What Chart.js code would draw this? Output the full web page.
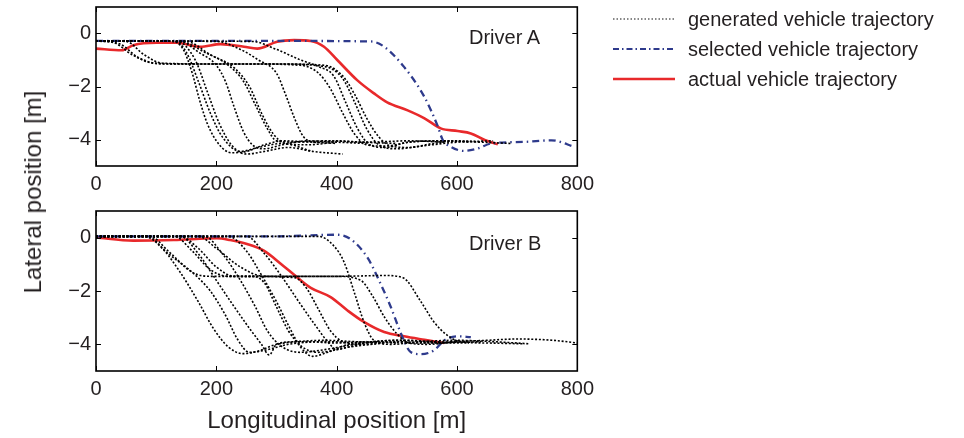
<!DOCTYPE html>
<html>
<head>
<meta charset="utf-8">
<script src="https://cdn.jsdelivr.net/npm/chart.js@4.4.1/dist/chart.umd.min.js"></script>
<style>
  body { margin: 0; background: #fff; width: 964px; height: 438px; position: relative; overflow: hidden;
         font-family: 'Liberation Sans', Arial, sans-serif; color: #231f20; }
  #wrapA { position: absolute; left: 0; top: 0; width: 600px; height: 200px; }
  #wrapB { position: absolute; left: 0; top: 200px; width: 600px; height: 238px; }
  .drv { position: absolute; font-size: 20px; line-height: 20px; }
  #ytitle { position: absolute; left: 33px; top: 192px; transform: translate(-50%, -50%) rotate(-90deg);
            font-size: 24px; white-space: nowrap; }
  #legend { position: absolute; left: 613px; top: 4px; font-size: 20px; }
  .row { display: flex; align-items: center; height: 30px; }
  .row svg { margin-right: 13px; }
</style>
</head>
<body>
<div id="wrapA"><canvas id="chartA"></canvas></div>
<div id="wrapB"><canvas id="chartB"></canvas></div>
<div class="drv" style="left:469px;top:27px">Driver A</div>
<div class="drv" style="left:469px;top:233px">Driver B</div>
<div id="ytitle">Lateral position [m]</div>
<div id="legend">
  <div class="row"><svg width="62" height="6"><line x1="0" y1="3" x2="62" y2="3" stroke="#111" stroke-width="1.2" stroke-dasharray="1.5 2"/></svg>generated vehicle trajectory</div>
  <div class="row"><svg width="62" height="6"><line x1="0" y1="3" x2="62" y2="3" stroke="#2e3a8c" stroke-width="2" stroke-dasharray="6 3 1.5 3"/></svg>selected vehicle trajectory</div>
  <div class="row"><svg width="62" height="6"><line x1="0" y1="3" x2="62" y2="3" stroke="#e8292b" stroke-width="2.5"/></svg>actual vehicle trajectory</div>
</div>
<script>
const xTicks = [0, 200, 400, 600, 800];
const yTicks = [-4, -2, 0];

// Driver A
const actAx = [0, 43, 62, 101, 134, 173, 207, 246, 268, 301, 329, 357, 379, 401, 434, 462, 484, 518, 546, 573, 601, 623, 646, 668];
const actAy = [-0.57, -0.63, -0.44, -0.35, -0.35, -0.5, -0.4, -0.5, -0.57, -0.31, -0.25, -0.28, -0.5, -1.0, -1.76, -2.26, -2.6, -2.9, -3.2, -3.58, -3.68, -3.77, -4.02, -4.18];
const selAx = [0, 300, 457, 479, 512, 546, 568, 576, 590, 612, 634, 657, 712, 757, 796];
const selAy = [-0.28, -0.28, -0.3, -0.5, -1.26, -2.4, -3.5, -4.0, -4.28, -4.43, -4.34, -4.15, -4.09, -4.03, -4.28];

const genA1x = [0, 30, 60, 90, 120, 200, 300, 380, 410, 430, 450, 470, 490, 520, 560, 600, 640];
const genA1y = [-0.28, -0.35, -0.8, -1.1, -1.15, -1.15, -1.15, -1.2, -1.6, -2.3, -3.2, -3.9, -4.25, -4.3, -4.15, -4.05, -4.1];
const genA2x = [0, 40, 70, 100, 150, 250, 340, 370, 390, 410, 430, 450, 480, 520, 580, 620];
const genA2y = [-0.28, -0.4, -0.9, -1.12, -1.15, -1.15, -1.2, -1.5, -2.1, -3.0, -3.8, -4.2, -4.25, -4.1, -4.05, -4.1];
const genA3x = [0, 125, 145, 160, 172, 185, 205, 225, 250, 280, 310, 360, 400];
const genA3y = [-0.28, -0.28, -0.6, -1.5, -2.5, -3.4, -4.2, -4.5, -4.45, -4.2, -4.05, -4.1, -4.15];
const genA4x = [0, 130, 150, 170, 190, 210, 240, 270, 310, 360];
const genA4y = [-0.28, -0.28, -0.7, -1.8, -3.0, -3.9, -4.45, -4.3, -4.15, -4.45];
const genA5x = [0, 135, 165, 185, 205, 225, 250, 280, 320, 360, 410];
const genA5y = [-0.28, -0.3, -1.0, -2.2, -3.4, -4.2, -4.55, -4.45, -4.3, -4.45, -4.55];
const genA6x = [0, 140, 170, 200, 215, 230, 245, 260, 280, 310, 350, 400, 450];
const genA6y = [-0.28, -0.3, -0.7, -1.2, -1.8, -2.8, -3.7, -4.2, -4.35, -4.2, -4.05, -4.1, -4.15];
const genA7x = [0, 140, 180, 220, 245, 265, 285, 300, 330, 380, 440, 500];
const genA7y = [-0.28, -0.3, -0.7, -1.2, -1.8, -2.7, -3.6, -4.05, -4.1, -4.05, -4.1, -4.15];
const genA8x = [0, 150, 190, 230, 255, 275, 295, 315, 350, 400];
const genA8y = [-0.28, -0.3, -0.8, -1.3, -2.0, -3.0, -3.8, -4.15, -4.2, -4.1];
const genA9x = [0, 200, 240, 270, 300, 315, 330, 345, 365, 400, 450, 520, 580];
const genA9y = [-0.28, -0.3, -0.6, -1.0, -1.5, -2.3, -3.2, -3.9, -4.1, -4.05, -4.1, -4.05, -4.1];
const genA10x = [0, 260, 300, 340, 370, 395, 415, 435, 455, 480, 520, 580, 640, 690];
const genA10y = [-0.28, -0.3, -0.6, -1.0, -1.25, -1.6, -2.6, -3.6, -4.2, -4.3, -4.1, -4.05, -4.1, -4.15];
const genA11x = [0, 50, 80, 110, 200, 300, 380, 410, 430, 450, 470, 500, 540, 600, 660];
const genA11y = [-0.28, -0.3, -0.8, -1.12, -1.15, -1.15, -1.25, -1.7, -2.6, -3.6, -4.2, -4.35, -4.25, -4.1, -4.05];

// Driver B
const actBx = [0, 62, 129, 201, 223, 251, 279, 307, 334, 357, 390, 418, 446, 479, 512, 546, 579];
const actBy = [0.01, -0.11, -0.09, -0.02, -0.09, -0.24, -0.49, -0.98, -1.48, -1.88, -2.23, -2.73, -3.17, -3.54, -3.7, -3.83, -3.95];
const selBx = [0, 300, 401, 423, 451, 473, 490, 507, 523, 540, 562, 579, 601, 623];
const selBy = [0.05, 0.05, 0.11, -0.05, -0.74, -1.73, -2.6, -3.6, -4.29, -4.37, -4.22, -3.85, -3.7, -3.73];

const genB1x = [0, 80, 110, 140, 170, 195, 220, 245, 270, 300, 350, 400, 450];
const genB1y = [0.05, 0.05, -0.4, -1.3, -2.4, -3.4, -4.1, -4.35, -4.25, -4.0, -3.9, -3.95, -3.9];
const genB2x = [0, 85, 120, 160, 190, 215, 235, 255, 285, 320, 380, 440];
const genB2y = [0.05, 0.05, -0.6, -1.3, -2.0, -2.9, -3.8, -4.3, -4.2, -4.0, -3.9, -3.95];
const genB3x = [0, 130, 160, 190, 220, 260, 280, 300, 320, 340, 370, 420, 480];
const genB3y = [0.05, 0.05, -0.5, -1.2, -1.45, -1.45, -1.7, -2.6, -3.5, -4.05, -4.3, -4.1, -3.95];
const genB4x = [0, 140, 170, 200, 230, 255, 275, 288, 300, 330, 380, 430, 500];
const genB4y = [0.05, 0.05, -0.6, -1.6, -2.6, -3.4, -4.0, -4.4, -4.0, -3.9, -3.85, -3.9, -3.95];
const genB5x = [0, 140, 170, 200, 230, 300, 400, 440, 460, 480, 500, 520, 550, 600, 650, 700, 760, 800];
const genB5y = [0.05, 0.05, -0.4, -1.1, -1.45, -1.45, -1.45, -1.6, -2.2, -3.0, -3.6, -3.95, -4.0, -3.9, -3.85, -3.8, -3.85, -3.95];
const genB6x = [0, 170, 200, 240, 280, 400, 480, 510, 540, 562, 584, 605, 650, 712];
const genB6y = [0.05, 0.05, -0.4, -1.1, -1.45, -1.45, -1.42, -1.5, -2.4, -3.17, -3.66, -3.9, -3.95, -3.98];
const genB7x = [0, 220, 250, 275, 300, 320, 340, 360, 385, 420, 470, 530, 600];
const genB7y = [0.05, 0.05, -0.5, -1.4, -2.4, -3.3, -4.1, -4.45, -4.3, -4.0, -3.9, -3.95, -3.9];
const genB8x = [0, 250, 280, 310, 340, 365, 385, 400, 420, 460, 520, 580, 640];
const genB8y = [0.05, 0.05, -0.6, -1.5, -2.5, -3.3, -3.9, -4.2, -4.1, -3.9, -3.85, -3.95, -3.9];
const genB9x = [0, 370, 395, 412, 430, 446, 462, 490, 540, 600, 660, 720];
const genB9y = [0.05, 0.05, -0.3, -0.9, -2.1, -3.2, -3.85, -4.0, -3.9, -3.85, -3.9, -3.98];
const genB10x = [0, 90, 120, 160, 190, 250, 330, 350, 370, 390, 410, 440, 500, 560, 620];
const genB10y = [0.05, 0.05, -0.5, -1.3, -1.45, -1.45, -1.5, -1.9, -2.7, -3.5, -3.9, -4.0, -3.9, -3.95, -3.9];
const genB11x = [0, 180, 210, 240, 265, 285, 310, 340, 380, 430, 500, 560, 620];
const genB11y = [0.05, 0.05, -0.6, -1.6, -2.6, -3.5, -4.1, -4.3, -4.2, -4.0, -3.85, -3.9, -3.95];

const genA = [[genA1x, genA1y], [genA2x, genA2y], [genA3x, genA3y], [genA4x, genA4y], [genA5x, genA5y], [genA6x, genA6y],
              [genA7x, genA7y], [genA8x, genA8y], [genA9x, genA9y], [genA10x, genA10y], [genA11x, genA11y]];
const genB = [[genB1x, genB1y], [genB2x, genB2y], [genB3x, genB3y], [genB4x, genB4y], [genB5x, genB5y], [genB6x, genB6y],
              [genB7x, genB7y], [genB8x, genB8y], [genB9x, genB9y], [genB10x, genB10y], [genB11x, genB11y]];

const FONT = "'Liberation Sans', Arial, sans-serif";
const INK = '#231f20';

function pts(xs, ys) {
  return xs.map((x, i) => ({ x: x, y: ys[i] }));
}

function minusLabel(v) {
  return v < 0 ? '\u2212' + Math.abs(v) : String(v);
}

// box around the plot area with tick marks pointing inwards
const boxPlugin = {
  id: 'box',
  afterDatasetsDraw(chart) {
    const a = chart.chartArea;
    const ctx = chart.ctx;
    const xs = chart.scales.x, ys = chart.scales.y;
    ctx.save();
    ctx.strokeStyle = '#000';
    ctx.lineWidth = 1;
    xs.ticks.forEach(t => {
      const px = Math.round(xs.getPixelForValue(t.value)) + 0.5;
      ctx.beginPath();
      ctx.moveTo(px, a.bottom); ctx.lineTo(px, a.bottom - 5);
      ctx.moveTo(px, a.top); ctx.lineTo(px, a.top + 5);
      ctx.stroke();
    });
    ys.ticks.forEach(t => {
      const py = Math.round(ys.getPixelForValue(t.value)) + 0.5;
      ctx.beginPath();
      ctx.moveTo(a.left, py); ctx.lineTo(a.left + 5, py);
      ctx.moveTo(a.right, py); ctx.lineTo(a.right - 5, py);
      ctx.stroke();
    });
    ctx.lineWidth = 1.6;
    ctx.strokeRect(a.left, a.top, a.right - a.left, a.bottom - a.top);
    ctx.restore();
  }
};

function makeChart(id, gen, selX, selY, actX, actY, padTop, xHeight, withTitle) {
  const datasets = gen.map(g => ({
    data: pts(g[0], g[1]),
    borderColor: '#000',
    borderWidth: 1.6,
    borderDash: [2, 1.8],
    cubicInterpolationMode: 'monotone',
    pointRadius: 0
  }));
  datasets.push({
    data: pts(selX, selY),
    borderColor: '#2e3a8c',
    borderWidth: 2.3,
    borderDash: [7, 4, 1.5, 4],
    cubicInterpolationMode: 'monotone',
    pointRadius: 0
  });
  datasets.push({
    data: pts(actX, actY),
    borderColor: '#e8292b',
    borderWidth: 2.6,
    cubicInterpolationMode: 'monotone',
    pointRadius: 0
  });

  return new Chart(document.getElementById(id), {
    type: 'line',
    data: { datasets: datasets },
    options: {
      responsive: true,
      maintainAspectRatio: false,
      animation: false,
      layout: { padding: { top: padTop, left: 0, right: 22, bottom: 0 } },
      plugins: { legend: { display: false }, tooltip: { enabled: false } },
      scales: {
        x: {
          type: 'linear',
          min: 0, max: 800,
          afterBuildTicks: s => { s.ticks = xTicks.map(v => ({ value: v })); },
          afterFit: s => { s.height = xHeight; },
          grid: { display: false, drawTicks: false },
          border: { display: false },
          ticks: { color: INK, padding: 6, maxRotation: 0, font: { family: FONT, size: 20 }, callback: v => minusLabel(v) },
          title: {
            display: withTitle,
            text: 'Longitudinal position [m]',
            color: INK,
            font: { family: FONT, size: 24 },
            padding: { top: 0, bottom: 2 }
          }
        },
        y: {
          min: -5, max: 1,
          afterBuildTicks: s => { s.ticks = yTicks.map(v => ({ value: v })); },
          afterFit: s => { s.width = 96; s.paddingTop = 0; s.paddingBottom = 0; },
          grid: { display: false, drawTicks: false },
          border: { display: false },
          ticks: { color: INK, padding: 5, font: { family: FONT, size: 20 }, callback: v => minusLabel(v) }
        }
      }
    },
    plugins: [boxPlugin]
  });
}

makeChart('chartA', genA, selAx, selAy, actAx, actAy, 7, 34, false);
makeChart('chartB', genB, selBx, selBy, actBx, actBy, 11, 67, true);
</script>
</body>
</html>
